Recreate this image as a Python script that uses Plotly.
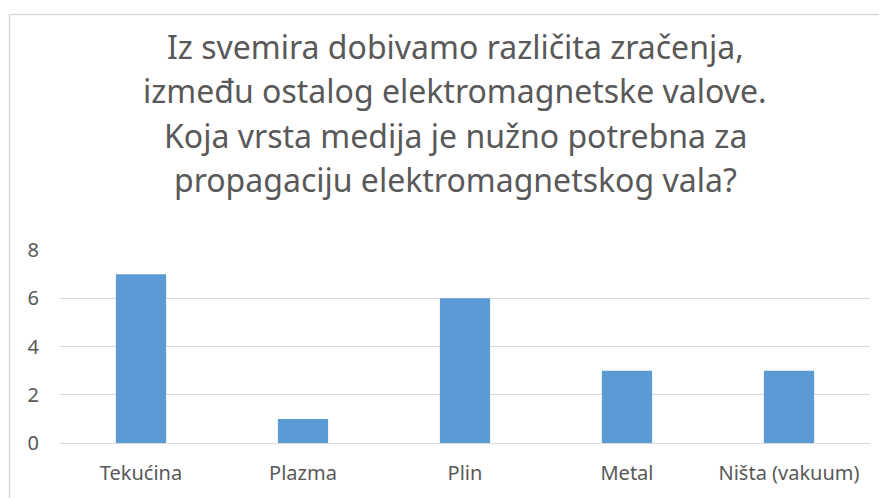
import plotly.graph_objects as go

categories = ["Tekućina", "Plazma", "Plin", "Metal", "Ništa (vakuum)"]
values = [7, 1, 6, 3, 3]
title_lines = [
    "Iz svemira dobivamo različita zračenja,",
    "između ostalog elektromagnetske valove.",
    "Koja vrsta medija je nužno potrebna za",
    "propagaciju elektromagnetskog vala?",
]
y_ticks = [0, 2, 4, 6, 8]

OFF = 8  # page body margin
W, H = 887 - OFF, 498 - OFF
PL, PR, PT, PB = 60, 870, 250, 443  # plot area in page coords
L, R, T, B = PL - OFF, OFF + W - PR, PT - OFF, OFF + H - PB
ph = PB - PT
pw = PR - PL

def py(y):
    return (PB - y) / ph

def px(x):
    return (x - PL) / pw

FONT = "Noto Sans"
GREY = "#595959"

fig = go.Figure(go.Bar(x=categories, y=values, marker_color="#5b9bd5",
                       marker_line_width=0))

title_y = [47, 90, 135, 179]
annotations = [
    dict(text=t, x=px(455), y=py(yy), xref="paper", yref="paper",
         xanchor="center", yanchor="middle", showarrow=False,
         font=dict(family=FONT, size=32, color=GREY))
    for t, yy in zip(title_lines, title_y)
]

fig.update_layout(
    width=W, height=H,
    margin=dict(l=L, r=R, t=T, b=B),
    paper_bgcolor="white", plot_bgcolor="white",
    bargap=0.69,
    showlegend=False,
    annotations=annotations,
    shapes=[dict(type="rect", xref="paper", yref="paper",
                 x0=px(9.5), y0=py(520), x1=px(900), y1=py(14.5),
                 line=dict(color="#d9d9d9", width=1.5), layer="below")],
    font=dict(family=FONT, color=GREY),
)
fig.update_yaxes(range=[0, 8], tickvals=y_ticks, showgrid=True,
                 gridcolor="#d9d9d9", gridwidth=1, zeroline=False,
                 showline=False, tickfont=dict(size=20, color=GREY),
                 ticklabelstandoff=20, fixedrange=True)
fig.update_xaxes(showline=True, linecolor="#d9d9d9", linewidth=1,
                 tickfont=dict(size=20, color=GREY), ticklabelstandoff=12,
                 fixedrange=True)

fig.write_html("out.html")
